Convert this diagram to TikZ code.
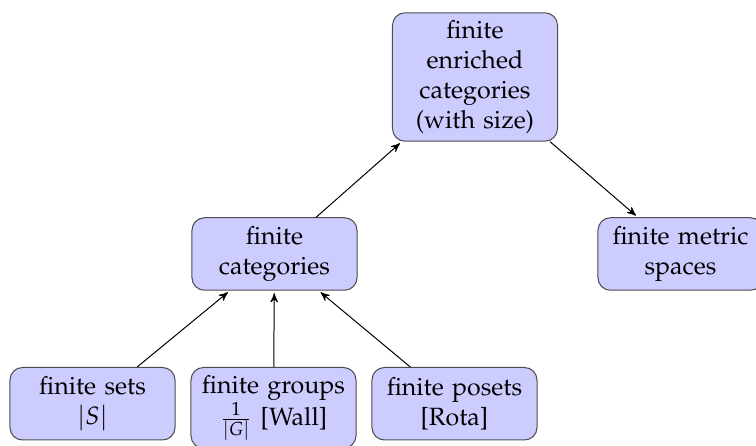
\documentclass[tikz,border=0pt]{standalone}
\usepackage[T1]{fontenc}
\usepackage{mathpazo}
\usetikzlibrary{arrows}
\usetikzlibrary{positioning}

\begin{document}
\begin{tikzpicture}[x=0.4pt,y=-0.4pt,->,>=stealth',shorten >=1pt,
    box node/.style={rectangle,rounded corners=5pt,draw=black!70,fill=blue!20,text width=60pt,align=center,inner sep=3pt,minimum height=29pt}]
   \useasboundingbox (0,0) rectangle (756,446);
   \begin{scope}
     \node[box node] (enr) at (475,77) {finite\\ enriched\\ categories\\ (with size)};
     \node[box node] (cat) at (274.5,254) {finite\\ categories};
     \node[box node] (met) at (680.5,254) {finite metric\\ spaces};
     \node[box node,anchor=north] (sets) at (92.5,367) {finite sets\\ $|S|$};
     \node[box node,anchor=north] (grp) at (273.5,367) {finite groups\\ $\frac{1}{|G|}$ [Wall]};
     \node[box node,anchor=north] (pos) at (454.5,367) {finite posets\\ {[Rota]}};
      \path[line width=0.4pt] (sets) edge (cat);
      \path[line width=0.4pt] (grp) edge (cat);
      \path[line width=0.4pt] (pos) edge (cat);
      \path[line width=0.4pt] (cat) edge (enr);
      \path[line width=0.4pt] (enr) edge (met);
   \end{scope}
\end{tikzpicture}
\end{document}
